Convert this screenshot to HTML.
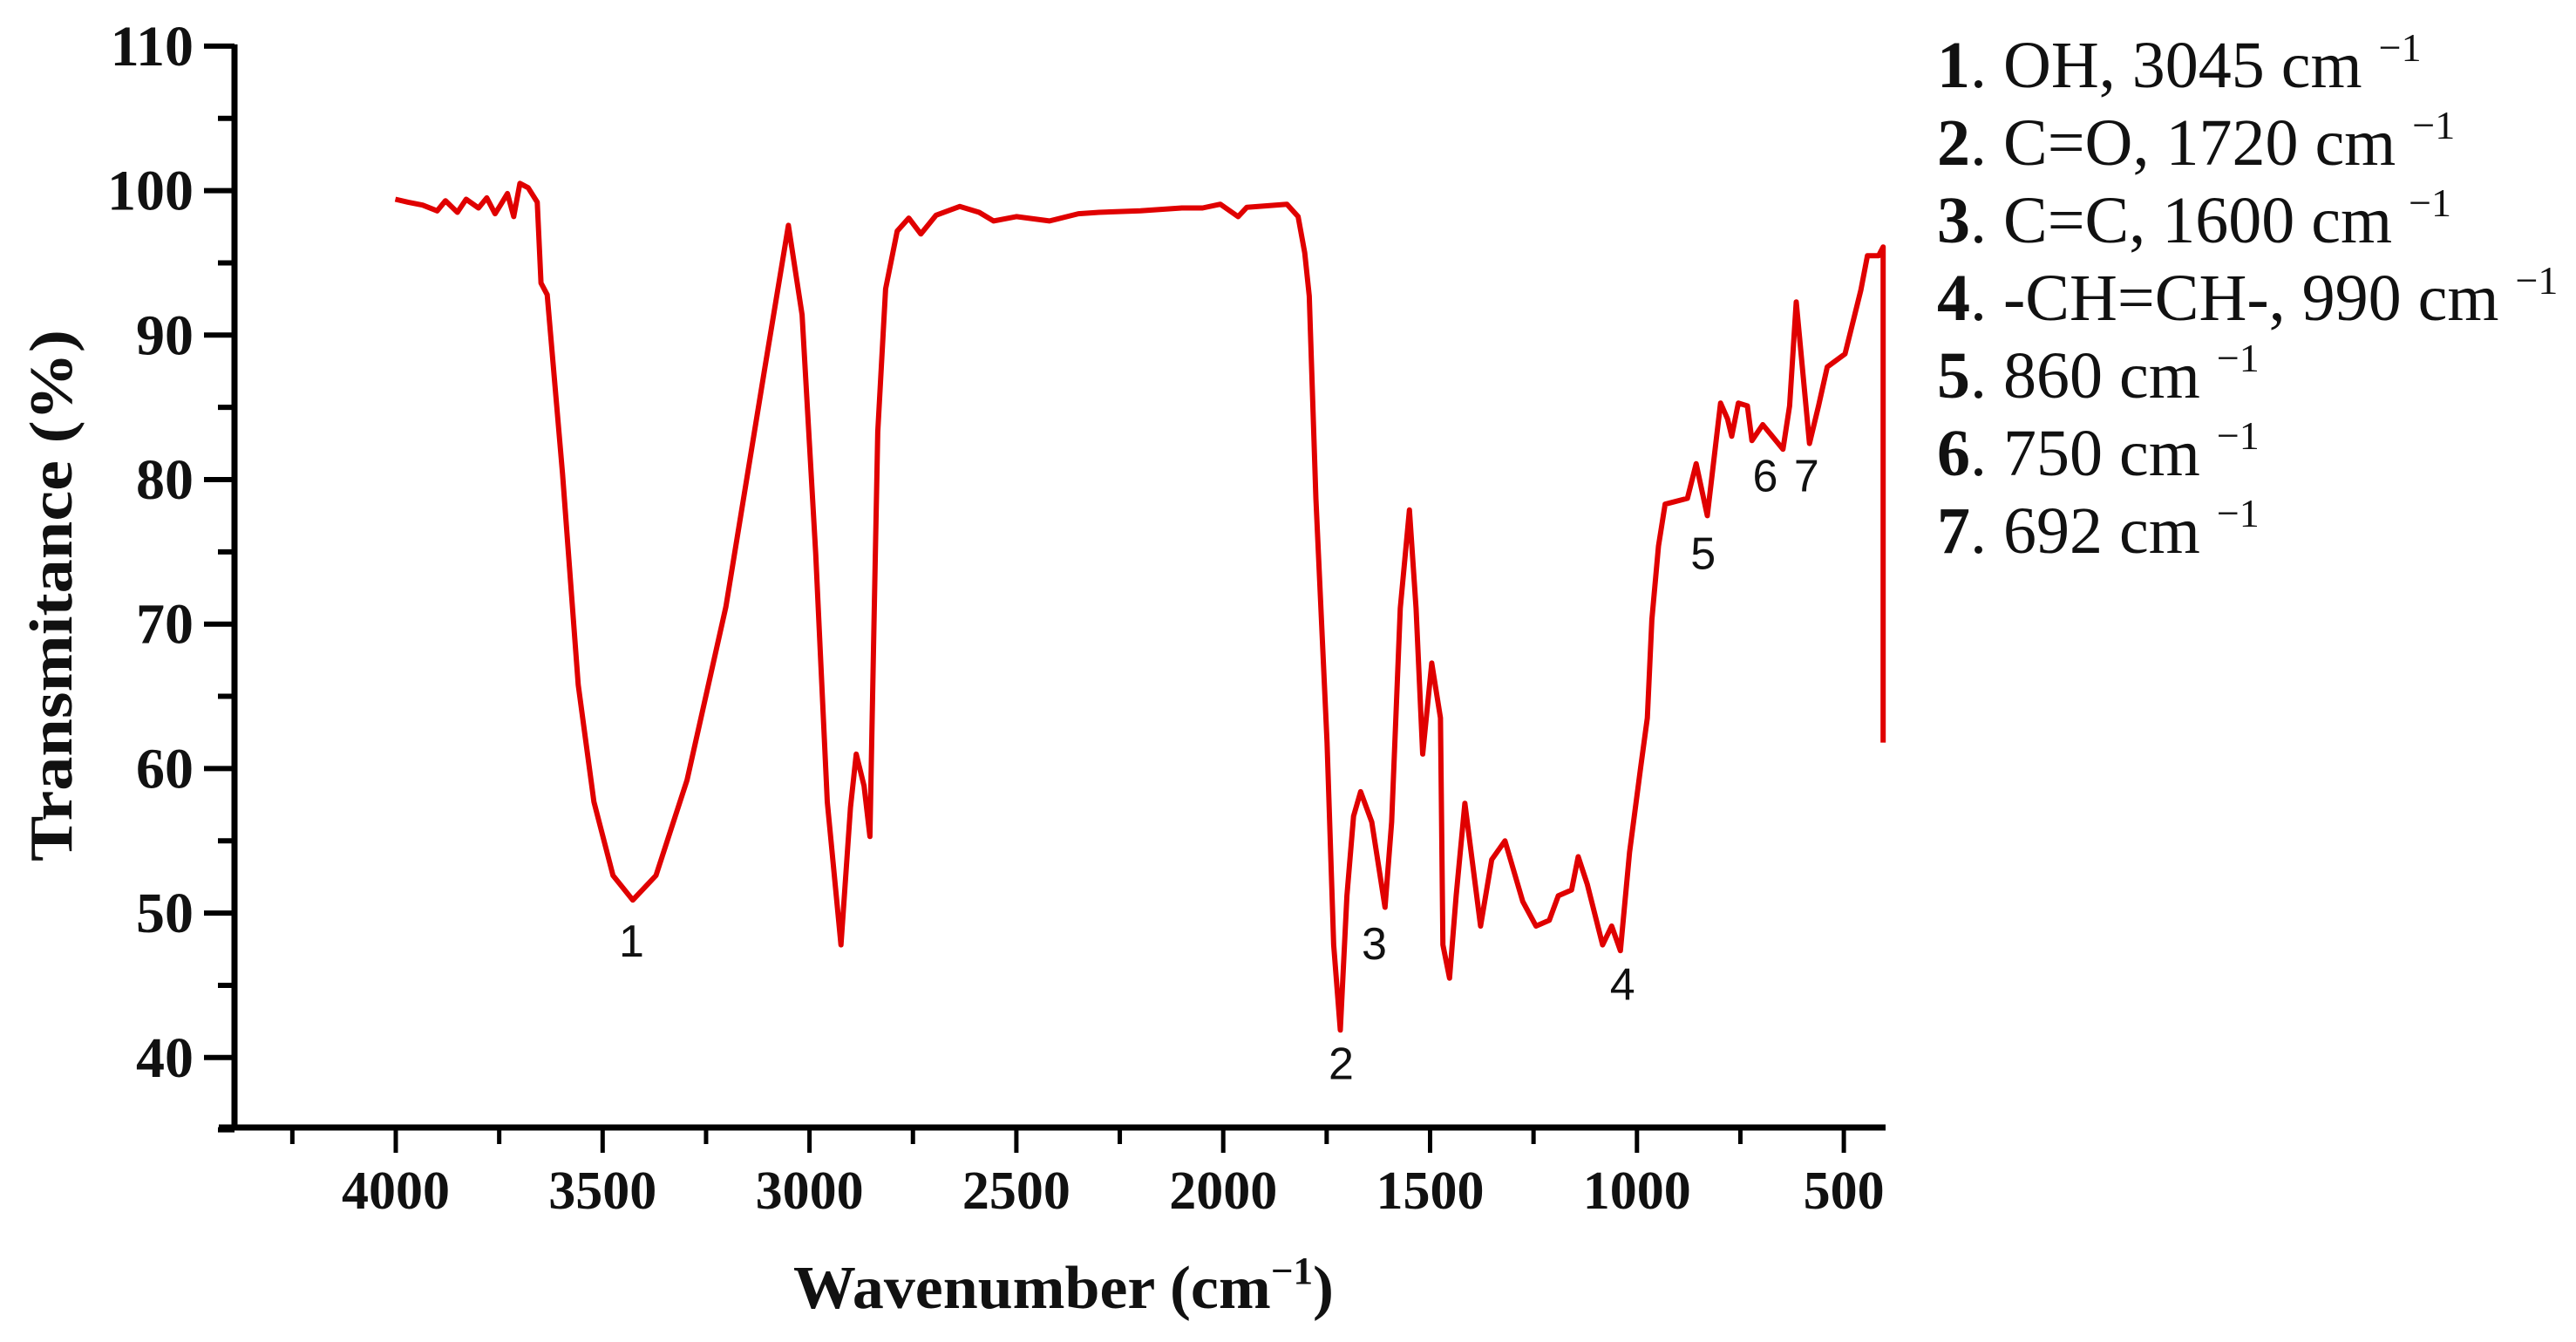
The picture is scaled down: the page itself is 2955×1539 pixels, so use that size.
<!DOCTYPE html>
<html><head><meta charset="utf-8"><style>
html,body{margin:0;padding:0;background:#fff;}
svg{display:block;}
.tk{font-family:"Liberation Serif",serif;font-weight:bold;fill:#111;}
.pk{font-family:"Liberation Sans",sans-serif;fill:#111;font-size:52px;}
.lg{font-family:"Liberation Serif",serif;fill:#111;font-size:76px;}
</style></head><body>
<svg id="chart" width="2955" height="1539" viewBox="0 0 2955 1539" xmlns="http://www.w3.org/2000/svg">
<g id="axes"></g>
<path id="curve" fill="none" stroke="#e00000" stroke-width="6" stroke-linejoin="round"/>
<g id="peaks"></g>
<text class="tk" x="1220" y="1500" font-size="70" text-anchor="middle" textLength="620" lengthAdjust="spacingAndGlyphs">Wavenumber (cm<tspan dy="-28" font-size="44">−1</tspan><tspan dy="28">)</tspan></text>
<text class="tk" transform="translate(82,683) rotate(-90)" font-size="70" text-anchor="middle" textLength="610" lengthAdjust="spacingAndGlyphs">Transmitance (%)</text>
<g>
<text class="lg" x="2222" y="100"><tspan font-weight="bold">1</tspan>. OH, 3045 cm <tspan dy="-30" font-size="46">−1</tspan></text>
<text class="lg" x="2222" y="189"><tspan font-weight="bold">2</tspan>. C=O, 1720 cm <tspan dy="-30" font-size="46">−1</tspan></text>
<text class="lg" x="2222" y="278"><tspan font-weight="bold">3</tspan>. C=C, 1600 cm <tspan dy="-30" font-size="46">−1</tspan></text>
<text class="lg" x="2222" y="367"><tspan font-weight="bold">4</tspan>. -CH=CH-, 990 cm <tspan dy="-30" font-size="46">−1</tspan></text>
<text class="lg" x="2222" y="456"><tspan font-weight="bold">5</tspan>. 860 cm <tspan dy="-30" font-size="46">−1</tspan></text>
<text class="lg" x="2222" y="545"><tspan font-weight="bold">6</tspan>. 750 cm <tspan dy="-30" font-size="46">−1</tspan></text>
<text class="lg" x="2222" y="634"><tspan font-weight="bold">7</tspan>. 692 cm <tspan dy="-30" font-size="46">−1</tspan></text>
</g>
</svg>
<script>
const wavenumbers = [4001,3970,3935,3900,3880,3851,3830,3800,3780,3760,3747,3730,3715,3700,3680,3658,3649,3634,3597,3559,3521,3475,3427,3371,3296,3202,3108,3051,3018,2985,2957,2924,2901,2887,2868,2854,2844,2835,2816,2788,2760,2731,2694,2637,2590,2555,2500,2420,2350,2300,2200,2100,2050,2007,1964,1943,1846,1819,1803,1792,1776,1749,1733,1717,1701,1685,1668,1641,1609,1593,1572,1550,1534,1518,1496,1475,1469,1453,1437,1416,1378,1351,1319,1276,1244,1212,1190,1158,1142,1120,1083,1061,1040,1018,991,975,964,948,932,878,857,830,798,781,771,755,733,722,696,647,631,615,583,561,540,497,459,443,416,405,405];
const transmittance = [99.4,99.2,99.0,98.6,99.3,98.5,99.4,98.8,99.5,98.4,99.0,99.8,98.2,100.5,100.2,99.2,93.6,92.8,80.4,65.8,57.7,52.6,50.9,52.6,59.2,71.2,87.7,97.6,91.4,74.9,57.7,47.8,57.3,61.0,58.8,55.3,70.1,83.3,93.2,97.2,98.1,97.0,98.3,98.9,98.5,97.9,98.2,97.9,98.4,98.5,98.6,98.8,98.8,99.06,98.2,98.85,99.06,98.2,95.7,92.7,78.7,61.8,47.8,41.9,51.2,56.7,58.4,56.3,50.4,56.3,71.1,77.9,71.1,61.0,67.3,63.5,47.8,45.5,51.2,57.6,49.1,53.7,55.0,50.8,49.1,49.5,51.2,51.6,53.9,52.0,47.8,49.1,47.4,54.2,60.1,63.5,70.3,75.4,78.3,78.7,81.1,77.5,85.3,84.2,83.0,85.3,85.1,82.7,83.8,82.1,85.1,92.3,82.5,85.1,87.8,88.7,93.1,95.5,95.5,96.1,61.8];
const yTicks = [40,50,60,70,80,90,100,110];
const xTicks = [4000,3500,3000,2500,2000,1500,1000,500];
const peakNames = ["1","2","3","4","5","6","7"];
const peakW = [3430,1715,1635,1035,840,690,590];
const peakT = [47,38.5,46.8,44,73.8,79.2,79.2];

const NS = "http://www.w3.org/2000/svg";
function xs(w){ return 454 + (4000 - w) * 0.4746; }
function ys(t){ return 218.6 + (100 - t) * 16.57; }
const axes = document.getElementById('axes');
function mk(tag, attrs, parent){ const e=document.createElementNS(NS,tag); for(const k in attrs) e.setAttribute(k,attrs[k]); parent.appendChild(e); return e; }

const yAxis = mk('line',{x1:269,y1:ys(110)-2,x2:269,y2:1296,stroke:'#000','stroke-width':7},axes);


const xAxis = mk('line',{x1:251,y1:1293,x2:2163,y2:1293,stroke:'#000','stroke-width':7},axes);



for (let t = 35; t <= 110; t += 5) {
  const major = (t % 10 === 0);
  const l = mk('line',{x1: major?234:250, y1: ys(t), x2: 269, y2: ys(t), stroke:'#000','stroke-width':6},axes);
  
  
}
yTicks.forEach(function(t){
  const tx = mk('text',{x:222,y:ys(t)+22,'text-anchor':'end','font-size':66,class:'tk'},axes);
  tx.textContent = t;
  
  
});
for (let w = 4250; w >= 500; w -= 250) {
  const major = (w % 500 === 0);
  const l = mk('line',{x1: xs(w), y1: 1293, x2: xs(w), y2: major?1322:1312, stroke:'#000','stroke-width':5},axes);
  
  
}
xTicks.forEach(function(w){
  const tx = mk('text',{x:xs(w),y:1386,'text-anchor':'middle','font-size':62,class:'tk'},axes);
  tx.textContent = w;
  
  
});

let d = '';
wavenumbers.forEach(function(w,i){ d += (i? 'L':'M') + xs(w).toFixed(1) + ' ' + ys(transmittance[i]).toFixed(1) + ' '; });
document.getElementById('curve').setAttribute('d', d);

const pk = document.getElementById('peaks');
peakNames.forEach(function(n,i){
  const tx = mk('text',{x:xs(peakW[i]),y:ys(peakT[i]),'text-anchor':'middle',class:'pk'},pk);
  tx.textContent = n;
  
  
});
</script>
</body></html>
